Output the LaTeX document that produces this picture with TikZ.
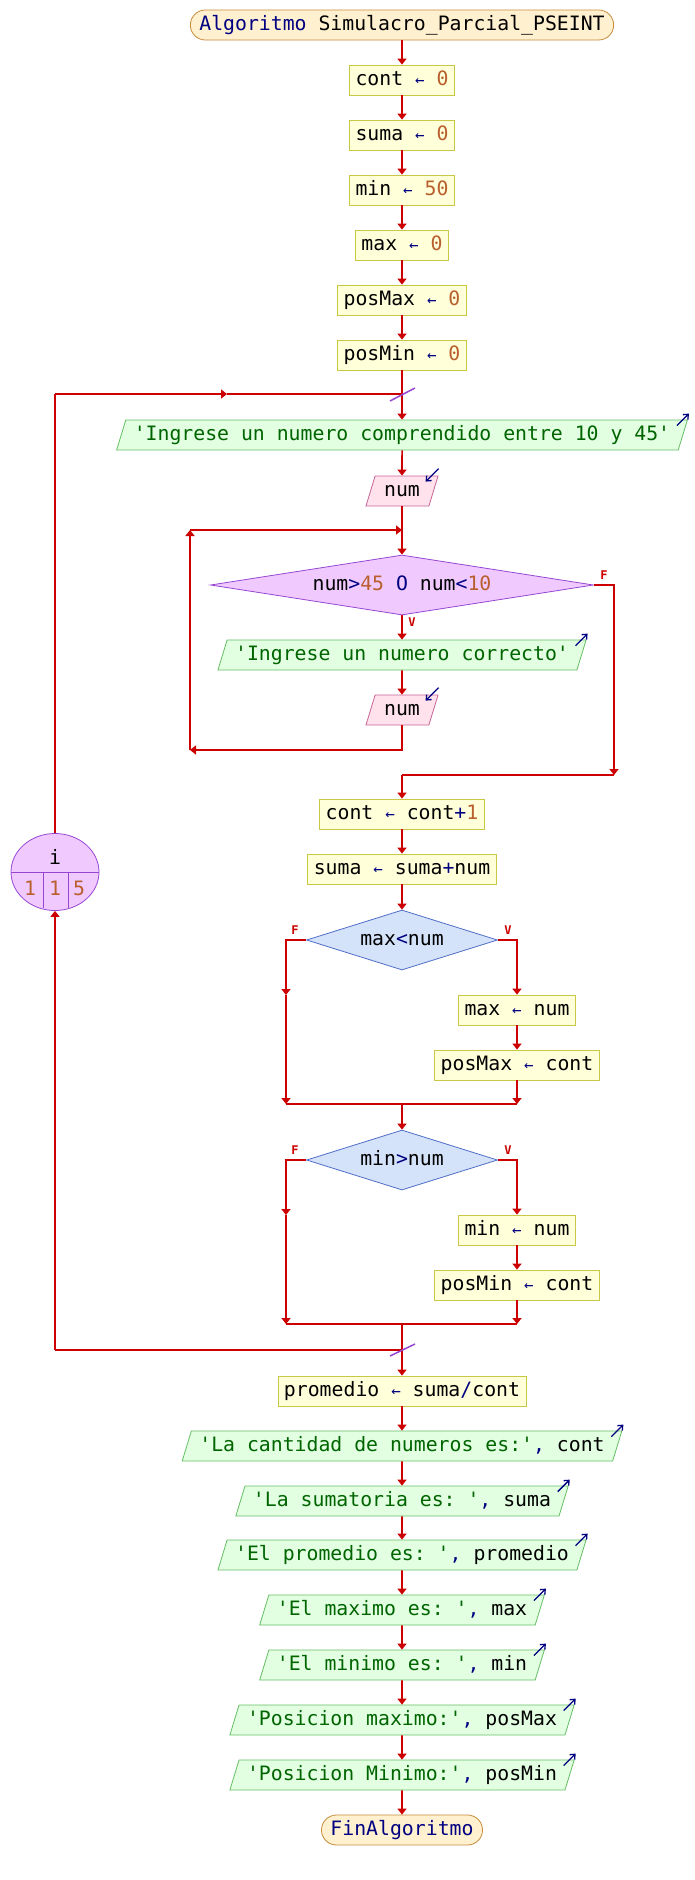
\documentclass[tikz,border=0pt]{standalone}
\usepackage{fontspec}
\setmonofont{DejaVu Sans Mono}
\usetikzlibrary{shapes.geometric,arrows.meta,calc}

\definecolor{lred}{RGB}{204,0,0}
\definecolor{kwblue}{RGB}{0,0,128}
\definecolor{numbrown}{RGB}{185,95,45}
\definecolor{strgreen}{RGB}{0,100,0}
\definecolor{termfill}{RGB}{255,240,208}
\definecolor{termdraw}{RGB}{200,140,60}
\definecolor{asgfill}{RGB}{255,255,218}
\definecolor{asgdraw}{RGB}{200,200,70}
\definecolor{outfill}{RGB}{226,255,226}
\definecolor{outdraw}{RGB}{100,190,100}
\definecolor{infill}{RGB}{255,226,236}
\definecolor{indraw}{RGB}{200,100,150}
\definecolor{whfill}{RGB}{240,202,255}
\definecolor{whdraw}{RGB}{150,70,210}
\definecolor{iffill}{RGB}{212,226,250}
\definecolor{ifdraw}{RGB}{80,110,200}

\newcommand\kw[1]{\textcolor{kwblue}{#1}}
\newcommand\nm[1]{\textcolor{numbrown}{#1}}
\newcommand\st[1]{\textcolor{strgreen}{#1}}
\newcommand\asg{\kw{\scalebox{0.8}{←}}}

\begin{document}
\begin{tikzpicture}[x=1pt,y=-1pt,
  every node/.style={font=\ttfamily\fontsize{19.8}{24}\selectfont},
  caja/.style={text height=14pt,text depth=4pt,inner ysep=6pt},
  term/.style={caja,rectangle,rounded corners=15pt,draw=termdraw,fill=termfill,line width=0.8pt,inner xsep=9pt},
  asig/.style={caja,rectangle,draw=asgdraw,fill=asgfill,line width=0.8pt,inner xsep=6pt},
  salida/.style={caja,trapezium,trapezium left angle=73,trapezium right angle=107,draw=outdraw,fill=outfill,line width=0.8pt,inner xsep=8pt},
  entrada/.style={caja,trapezium,trapezium left angle=73,trapezium right angle=107,draw=indraw,fill=infill,line width=0.8pt,inner xsep=9pt},
  mientras/.style={caja,diamond,aspect=6.4,inner sep=0pt,minimum width=383pt,minimum height=60pt,draw=whdraw,fill=whfill,line width=0.8pt},
  si/.style={caja,diamond,aspect=3.2,inner sep=0pt,minimum width=191pt,minimum height=60pt,draw=ifdraw,fill=iffill,line width=0.8pt},
  flecha/.style={draw=lred,line width=1.6pt,-{Triangle[length=6pt,width=9pt]}},
  linea/.style={draw=lred,line width=1.6pt},
  marca/.style={draw=kwblue,line width=1.3pt,-{Straight Barb[length=4pt,width=7pt]}},
  corte/.style={draw=whdraw,line width=1.5pt},
  rotulo/.style={font=\ttfamily\bfseries\fontsize{12}{12}\selectfont,text=lred,inner sep=0pt},
  cifra/.style={inner sep=0pt,text height=14pt,text depth=0pt}]
\useasboundingbox (0,0) rectangle (694,1880);

\node[term] (ini) at (402,25) {\kw{Algoritmo} Simulacro\_Parcial\_PSEINT};
\node[asig] (c0) at (402,80) {cont \asg{} \nm{0}};
\node[asig] (s0) at (402,135) {suma \asg{} \nm{0}};
\node[asig] (n0) at (402,190) {min \asg{} \nm{50}};
\node[asig] (x0) at (402,245) {max \asg{} \nm{0}};
\node[asig] (pM0) at (402,300) {posMax \asg{} \nm{0}};
\node[asig] (pm0) at (402,355) {posMin \asg{} \nm{0}};
\coordinate (j1) at (402,394);
\node[salida] (o1) at (402,435) {\st{'Ingrese un numero comprendido entre 10 y 45'}};
\node[entrada] (e1) at (402,491) {num};
\coordinate (j2) at (402,530);
\node[mientras] (w) at (402,585) {num\kw{>}\nm{45} \kw{O} num\kw{<}\nm{10}};
\node[salida] (o2) at (402,655) {\st{'Ingrese un numero correcto'}};
\node[entrada] (e2) at (402,710) {num};
\coordinate (w2) at (190,750);
\coordinate (w3) at (190,530);
\coordinate (f1) at (614,775);
\coordinate (f2) at (402,775);
\node[asig] (c1) at (402,814) {cont \asg{} cont\kw{+}\nm{1}};
\node[asig] (s1) at (402,869) {suma \asg{} suma\kw{+}num};
\node[si] (if1) at (402,940) {max\kw{<}num};
\node[asig] (x1) at (517,1010) {max \asg{} num};
\node[asig] (pM1) at (517,1065) {posMax \asg{} cont};
\coordinate (a1) at (286,995);
\coordinate (b1) at (286,1104);
\coordinate (b2) at (517,1104);
\coordinate (b3) at (402,1104);
\node[si] (if2) at (402,1160) {min\kw{>}num};
\node[asig] (n1) at (517,1230) {min \asg{} num};
\node[asig] (pm1) at (517,1285) {posMin \asg{} cont};
\coordinate (a2) at (286,1215);
\coordinate (d1) at (286,1324);
\coordinate (d2) at (517,1324);
\coordinate (d3) at (402,1324);
\coordinate (j3) at (402,1350);
\coordinate (l1) at (55,1350);
\coordinate (l2) at (55,394);
\coordinate (l3) at (227,394);
\node[asig] (pr) at (402,1391) {promedio \asg{} suma\kw{/}cont};
\node[salida] (o3) at (402,1446) {\st{'La cantidad de numeros es:'}\kw{,} cont};
\node[salida] (o4) at (402,1501) {\st{'La sumatoria es: '}\kw{,} suma};
\node[salida] (o5) at (402,1555) {\st{'El promedio es: '}\kw{,} promedio};
\node[salida] (o6) at (402,1610) {\st{'El maximo es: '}\kw{,} max};
\node[salida] (o7) at (402,1665) {\st{'El minimo es: '}\kw{,} min};
\node[salida] (o8) at (402,1720) {\st{'Posicion maximo:'}\kw{,} posMax};
\node[salida] (o9) at (402,1775) {\st{'Posicion Minimo:'}\kw{,} posMin};
\node[term] (fin) at (402,1830) {\kw{FinAlgoritmo}};

% contador del para
\node[ellipse,draw=whdraw,fill=whfill,line width=0.8pt,minimum width=88pt,minimum height=77pt,inner sep=0pt] (cic) at (55,872) {};
\draw[whdraw,line width=0.8pt] (11,872) -- (99,872) (43,872) -- (43,908) (68,872) -- (68,908);
\node[cifra] (iv) at (55,857) {i};
\node[cifra] (i1) at (30,888) {\nm{1}};
\node[cifra] (i2) at (55,888) {\nm{1}};
\node[cifra] (i3) at (79,888) {\nm{5}};

\node[rotulo] (fw) at (604,575) {F};
\node[rotulo] (vw) at (412,622) {V};
\node[rotulo] (f1l) at (295,930) {F};
\node[rotulo] (v1l) at (508,930) {V};
\node[rotulo] (f2l) at (295,1150) {F};
\node[rotulo] (v2l) at (508,1150) {V};

\draw[flecha] (ini) -- (c0);
\draw[flecha] (c0) -- (s0);
\draw[flecha] (s0) -- (n0);
\draw[flecha] (n0) -- (x0);
\draw[flecha] (x0) -- (pM0);
\draw[flecha] (pM0) -- (pm0);
\draw[linea] (pm0) -- (j1);
\draw[flecha] (j1) -- (o1);
\draw[flecha] (o1) -- (e1);
\draw[linea] (e1) -- (j2);
\draw[flecha] (j2) -- (w);
\draw[flecha] (w) -- (o2);
\draw[flecha] (o2) -- (e2);
\draw[flecha] (e2) |- (w2);
\draw[flecha] (w2) -- (w3);
\draw[flecha] (w3) -- (j2);
\draw[flecha] (w.east) -| (f1);
\draw[linea] (f1) -- (f2);
\draw[flecha] (f2) -- (c1);
\draw[flecha] (c1) -- (s1);
\draw[flecha] (s1) -- (if1);
\draw[flecha] (if1.west) -| (a1);
\draw[flecha] (a1) -- (b1);
\draw[flecha] (if1.east) -| (x1);
\draw[flecha] (x1) -- (pM1);
\draw[flecha] (pM1) -- (b2);
\draw[linea] (b1) -- (b2);
\draw[flecha] (b3) -- (if2);
\draw[flecha] (if2.west) -| (a2);
\draw[flecha] (a2) -- (d1);
\draw[flecha] (if2.east) -| (n1);
\draw[flecha] (n1) -- (pm1);
\draw[flecha] (pm1) -- (d2);
\draw[linea] (d1) -- (d2);
\draw[linea] (d3) -- (j3);
\draw[flecha] (j3) -- (pr);
\draw[linea] (j3) -- (l1);
\draw[flecha] (l1) -- (cic);
\draw[linea] (cic) -- (l2);
\draw[flecha] (l2) -- (l3);
\draw[linea] (l3) -- (j1);
\draw[flecha] (pr) -- (o3);
\draw[flecha] (o3) -- (o4);
\draw[flecha] (o4) -- (o5);
\draw[flecha] (o5) -- (o6);
\draw[flecha] (o6) -- (o7);
\draw[flecha] (o7) -- (o8);
\draw[flecha] (o8) -- (o9);
\draw[flecha] (o9) -- (fin);

\draw[corte] ($(j1)+(-12,7)$) -- ($(j1)+(13,-6)$);
\draw[corte] ($(j3)+(-12,6)$) -- ($(j3)+(13,-6)$);

\foreach \n in {o1,o2,o3,o4,o5,o6,o7,o8,o9}
  \draw[marca] ($(\n.top right corner)+(-11,6)$) -- ($(\n.top right corner)+(1,-6)$);
\foreach \n in {e1,e2}
  \draw[marca] ($(\n.top right corner)+(0,-7)$) -- ($(\n.top right corner)+(-13,6)$);
\end{tikzpicture}
\end{document}
